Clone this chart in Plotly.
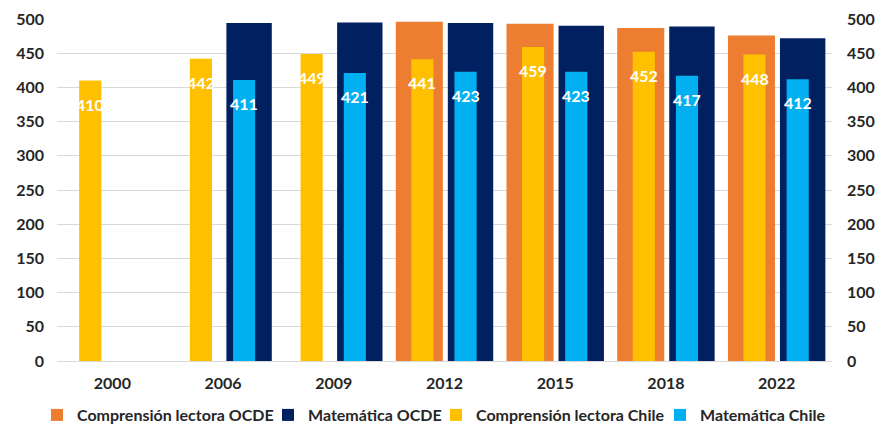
import plotly.graph_objects as go

# PISA average scores: OECD vs Chile
years = ["2000", "2006", "2009", "2012", "2015", "2018", "2022"]
lectura_ocde = [None, None, None, 496, 493, 487, 476]
matematica_ocde = [None, 494, 495, 494, 490, 489, 472]
lectura_chile = [410, 442, 449, 441, 459, 452, 448]
matematica_chile = [None, 411, 421, 423, 423, 417, 412]

names = ["Comprensión lectora OCDE", "Matemática OCDE",
         "Comprensión lectora Chile", "Matemática Chile"]
colors = ["#ED7D31", "#002060", "#FFC000", "#00B0F0"]

W, H = 880, 426
M_L, M_R, M_T, M_B = 57, 48, 19, 65
FONT = "Lato"
TXT = "#262626"

xpos = list(range(len(years)))

# bar geometry in category units: (offset, width)
geom = [(-0.44, 0.425), (0.03, 0.41), (-0.30, 0.20), (0.09, 0.20)]
series = [lectura_ocde, matematica_ocde, lectura_chile, matematica_chile]
axes = ["y", "y", "y2", "y2"]
legend_ids = ["legend", "legend2", "legend3", "legend4"]
# left edge (px) of each legend entry along the bottom row
legend_left = [37, 268, 436, 660]

fig = go.Figure()
for vals, name, col, (off, wd), ax, lid in zip(series, names, colors, geom, axes, legend_ids):
    fig.add_trace(go.Bar(x=xpos, y=vals, name=name, marker_color=col,
                         marker_line_width=0, offset=off, width=wd, yaxis=ax,
                         legend=lid))

# value labels inside the top of the Chile bars
annotations = []
for (off, wd), vals in ((geom[2], lectura_chile), (geom[3], matematica_chile)):
    for xi, v in zip(xpos, vals):
        if v is None:
            continue
        annotations.append(dict(
            x=xi + off + wd / 2, y=v, xref="x", yref="y2", text=f"<b>{v}</b>",
            showarrow=False, yshift=-12, yanchor="top", xanchor="center",
            font=dict(family=FONT, size=16, color="white"),
        ))

axis_font = dict(family=FONT, size=16, color=TXT, weight="bold")
legend_font = dict(family=FONT, size=16, color=TXT, weight="bold")

layout_legends = {}
for lid, left in zip(legend_ids, legend_left):
    layout_legends[lid] = dict(
        orientation="h", xref="container", yref="container",
        x=left / W, xanchor="left", y=11 / H, yanchor="middle",
        font=legend_font, itemwidth=30, bgcolor="rgba(0,0,0,0)",
    )

fig.update_layout(
    width=W, height=H,
    margin=dict(l=M_L, r=M_R, t=M_T, b=M_B, autoexpand=False),
    barmode="overlay",
    plot_bgcolor="white", paper_bgcolor="white",
    font=dict(family=FONT, color=TXT),
    xaxis=dict(range=[-0.5, len(years) - 0.5], tickvals=xpos, ticktext=years,
               tickfont=axis_font, showgrid=False, zeroline=False, ticks="",
               showline=False, ticklabelstandoff=11),
    yaxis=dict(range=[0, 500], dtick=50, tickfont=axis_font, gridcolor="#d9d9d9",
               gridwidth=1, zeroline=True, zerolinecolor="#d9d9d9", zerolinewidth=1,
               ticks="", ticklabelstandoff=12),
    yaxis2=dict(range=[0, 500], dtick=50, tickfont=axis_font, overlaying="y",
                side="right", showgrid=False, zeroline=False, ticks="",
                ticklabelstandoff=14),
    annotations=annotations,
    showlegend=True,
    **layout_legends,
)

fig.write_html("out.html")
